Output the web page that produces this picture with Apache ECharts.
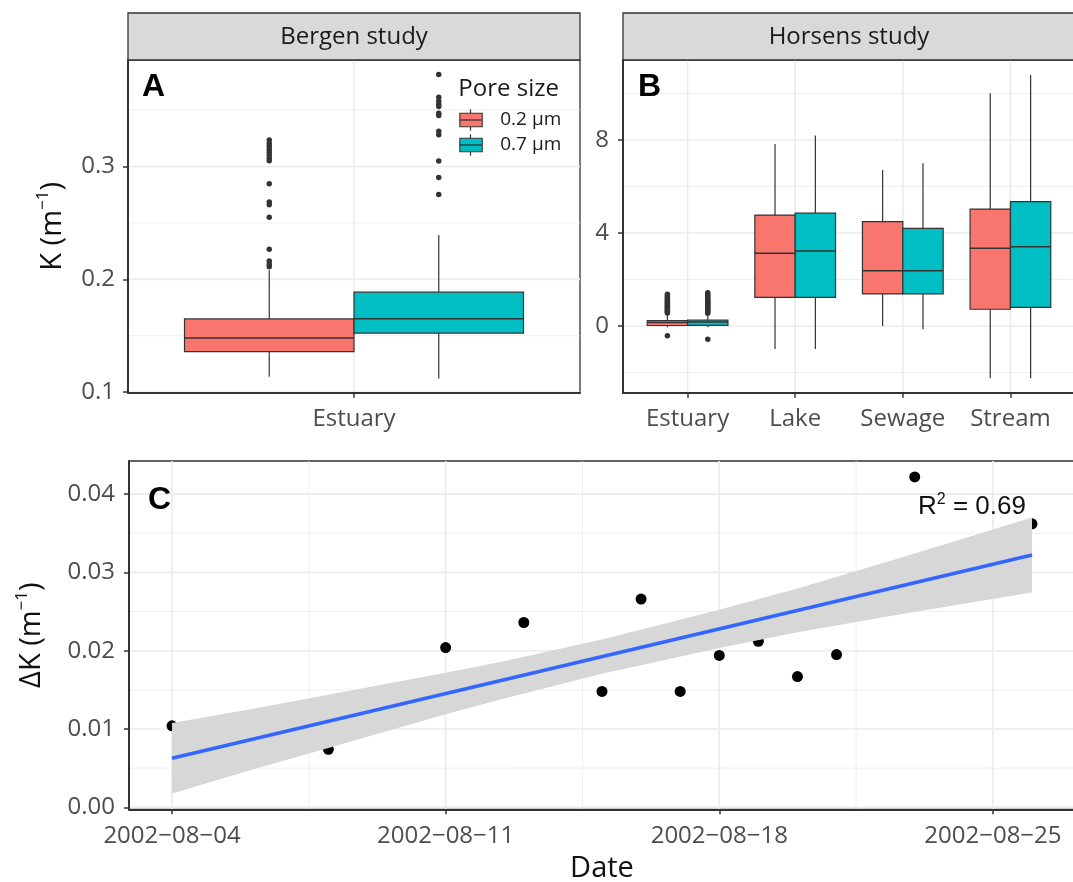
<!DOCTYPE html>
<html><head><meta charset="utf-8">
<script src="https://cdn.jsdelivr.net/npm/echarts@6/dist/echarts.min.js"></script>
<style>html,body{margin:0;padding:0;background:#fff}#chart{width:1073px;height:882px}</style>
</head><body><div id="chart"></div>
<script>
// ---------------- data ----------------
const poreSizes = ['0.2 µm', '0.7 µm'];

// Panel A – Bergen study: [lower whisker, Q1, median, Q3, upper whisker]
const bergenCategories = ['Estuary'];
const bergenStats02 = [[0.1137, 0.136, 0.148, 0.165, 0.208]];
const bergenStats07 = [[0.1122, 0.1524, 0.1652, 0.1887, 0.2393]];
const bergenOutliers02 = [[0.3235, 0.3205, 0.3178, 0.3152, 0.3127, 0.3101, 0.3073, 0.3052, 0.2848, 0.2685, 0.2662, 0.2551, 0.2268, 0.2163, 0.2134, 0.2112]];
const bergenOutliers07 = [[0.3815, 0.3613, 0.3578, 0.3552, 0.3533, 0.3473, 0.3452, 0.3312, 0.3281, 0.3050, 0.2902, 0.2753]];

// Panel B – Horsens study
const horsensCategories = ['Estuary', 'Lake', 'Sewage', 'Stream'];
const horsensStats02 = [
  [-0.05, 0.02, 0.15, 0.23, 0.50],
  [-0.99, 1.23, 3.13, 4.77, 7.83],
  [0.00, 1.38, 2.37, 4.49, 6.71],
  [-2.25, 0.72, 3.34, 5.03, 10.01]
];
const horsensStats07 = [
  [-0.05, 0.03, 0.17, 0.25, 0.52],
  [-0.99, 1.23, 3.23, 4.85, 8.19],
  [-0.14, 1.38, 2.37, 4.20, 7.00],
  [-2.25, 0.80, 3.41, 5.35, 10.80]
];
const horsensOutliers02 = [
  [0.56, 0.61, 0.66, 0.69, 0.74, 0.79, 0.83, 0.88, 0.94, 0.99, 1.04, 1.11, 1.16, 1.23, 1.29, 1.36, -0.42],
  [], [], []
];
const horsensOutliers07 = [
  [0.55, 0.62, 0.67, 0.71, 0.76, 0.82, 0.87, 0.93, 0.97, 1.02, 1.08, 1.14, 1.21, 1.28, 1.35, 1.43, -0.57],
  [], [], []
];

// Panel C – ΔK over time
const dkDates = ['2002-08-04', '2002-08-08', '2002-08-11', '2002-08-13', '2002-08-15', '2002-08-16', '2002-08-17',
  '2002-08-18', '2002-08-19', '2002-08-20', '2002-08-21', '2002-08-23', '2002-08-26'];
const dkValues = [0.0104, 0.0074, 0.0204, 0.0236, 0.0148, 0.0266, 0.0148, 0.0194, 0.0212, 0.0167, 0.0195, 0.0422, 0.0362];
const fitDates = ['2002-08-04', '2002-08-26'];
const fitValues = [0.00626, 0.03222];
const bandDaysFromStart = [0, 2, 4, 7, 8.4, 11, 14, 16, 18.6, 22];
const bandLower = [0.00176, 0.00472, 0.00758, 0.01187, 0.01377, 0.01704, 0.02033, 0.02234, 0.02461, 0.02742];
const bandUpper = [0.01076, 0.01252, 0.01438, 0.01717, 0.01857, 0.02144, 0.02523, 0.02794, 0.03181, 0.03702];
const rSquaredText = '0.69';

// tick / gridline values
const aYTicks = [0.1, 0.2, 0.3];
const aYMinor = [0.15, 0.25, 0.35];
const bYTicks = [0, 4, 8];
const bYMinor = [-2, 2, 6, 10];
const cYTicks = [0, 0.01, 0.02, 0.03, 0.04];
const cYMinor = [0.005, 0.015, 0.025, 0.035];
const cXTickDates = ['2002-08-04', '2002-08-11', '2002-08-18', '2002-08-25'];
const cXMinorDays = [3.5, 10.5, 17.5];

// ---------------- helpers ----------------
const DAY = 86400000;
const baseTime = Date.parse(dkDates[0]);
const dayOf = d => (Date.parse(d) - baseTime) / DAY;
const fmtDate = v => {
  const d = new Date(baseTime + Math.round(v) * DAY);
  const p = n => String(n).padStart(2, '0');
  return d.getUTCFullYear() + '\u2212' + p(d.getUTCMonth() + 1) + '\u2212' + p(d.getUTCDate());
};

const RED = '#F8766D', TEAL = '#00BFC4', DARK = '#333333';
const FONT = 'Open Sans';
const TICK_COLOR = '#4d4d4d';

function gridLineSeries(gridIdx, values, horizontal, width, anchor) {
  return {
    type: 'custom', xAxisIndex: gridIdx, yAxisIndex: gridIdx, z: 0, silent: true,
    data: values.map(v => horizontal ? [anchor, v] : [v, anchor]),
    renderItem: (params, api) => {
      const cs = params.coordSys;
      const pt = api.coord([api.value(0), api.value(1)]);
      const shape = horizontal
        ? { x1: cs.x, y1: pt[1], x2: cs.x + cs.width, y2: pt[1] }
        : { x1: pt[0], y1: cs.y, x2: pt[0], y2: cs.y + cs.height };
      return { type: 'line', shape, style: { stroke: '#ebebeb', lineWidth: width }, silent: true };
    }
  };
}

function boxSeries(name, gridIdx, stats, color, offset, halfW) {
  return {
    type: 'custom', name, xAxisIndex: gridIdx, yAxisIndex: gridIdx, z: 2,
    itemStyle: { color: color, borderColor: DARK },
    data: stats.map((s, i) => [i + 1].concat(s)),
    encode: { x: 0, y: [1, 2, 3, 4, 5] },
    renderItem: (params, api) => {
      const x = api.value(0) + offset;
      const lo = api.coord([x, api.value(1)]);
      const q1 = api.coord([x, api.value(2)]);
      const med = api.coord([x, api.value(3)]);
      const q3 = api.coord([x, api.value(4)]);
      const hi = api.coord([x, api.value(5)]);
      const left = api.coord([x - halfW, api.value(4)])[0];
      const right = api.coord([x + halfW, api.value(4)])[0];
      return {
        type: 'group', children: [
          { type: 'line', shape: { x1: hi[0], y1: hi[1], x2: q3[0], y2: q3[1] }, style: { stroke: DARK, lineWidth: 1.2 } },
          { type: 'line', shape: { x1: q1[0], y1: q1[1], x2: lo[0], y2: lo[1] }, style: { stroke: DARK, lineWidth: 1.2 } },
          { type: 'rect', shape: { x: left, y: q3[1], width: right - left, height: q1[1] - q3[1] },
            style: { fill: color, stroke: DARK, lineWidth: 1.2 } },
          { type: 'line', shape: { x1: left, y1: med[1], x2: right, y2: med[1] }, style: { stroke: DARK, lineWidth: 1.5 } }
        ]
      };
    }
  };
}

function outlierSeries(gridIdx, outliers, offset) {
  const data = [];
  outliers.forEach((vals, i) => vals.forEach(v => data.push([i + 1 + offset, v])));
  return {
    type: 'scatter', xAxisIndex: gridIdx, yAxisIndex: gridIdx, z: 3, silent: true,
    symbolSize: 5.5, itemStyle: { color: DARK, opacity: 1 }, data
  };
}

const tickLabel = extra => Object.assign({ color: TICK_COLOR, fontSize: 24, fontFamily: FONT }, extra);
const axisLineStyle = { show: true, onZero: false, lineStyle: { color: DARK, width: 2 } };
const axisTickStyle = vals => ({ show: true, length: 5, lineStyle: { color: DARK, width: 1.5 }, customValues: vals });
const nameRich = size => ({
  a: { fontSize: size, fontFamily: FONT, color: '#111', lineHeight: size + 6 },
  s: { fontSize: Math.round(size * 0.6), fontFamily: FONT, color: '#111', lineHeight: Math.round(size * 0.6), verticalAlign: 'top' }
});

const aHalf = 0.225, bHalf = 0.1875;
const gridBase = { show: true, borderColor: DARK, borderWidth: 1.3, backgroundColor: '#fff', containLabel: false, outerBoundsMode: 'none' };

const option = {
  animation: false,
  backgroundColor: '#ffffff',
  grid: [
    Object.assign({ left: 128, top: 60, width: 452, height: 332.7 }, gridBase),
    Object.assign({ left: 623, top: 60, width: 452, height: 332.7 }, gridBase),
    Object.assign({ left: 129, top: 461, width: 946, height: 348.3 }, gridBase)
  ],
  xAxis: [
    { gridIndex: 0, type: 'value', min: 0.4, max: 1.6, axisLine: axisLineStyle, axisTick: axisTickStyle([1]),
      axisLabel: tickLabel({ customValues: [1], formatter: v => bergenCategories[Math.round(v) - 1], margin: 14 }),
      splitLine: { show: false } },
    { gridIndex: 1, type: 'value', min: 0.4, max: 4.6, axisLine: axisLineStyle, axisTick: axisTickStyle([1, 2, 3, 4]),
      axisLabel: tickLabel({ customValues: [1, 2, 3, 4], formatter: v => horsensCategories[Math.round(v) - 1], margin: 14 }),
      splitLine: { show: false } },
    { gridIndex: 2, type: 'value', min: -1.1, max: 23.1, axisLine: axisLineStyle, axisTick: axisTickStyle(cXTickDates.map(dayOf)),
      axisLabel: tickLabel({ customValues: cXTickDates.map(dayOf), formatter: fmtDate, margin: 15 }),
      splitLine: { show: false },
      name: 'Date', nameLocation: 'middle', nameGap: 45,
      nameTextStyle: { fontSize: 29, fontFamily: FONT, color: '#111' } }
  ],
  yAxis: [
    { gridIndex: 0, type: 'value', min: 0.0996, max: 0.3944, axisLine: axisLineStyle, axisTick: axisTickStyle(aYTicks),
      axisLabel: tickLabel({ customValues: aYTicks, formatter: v => v.toFixed(1), margin: 13 }),
      splitLine: { show: false },
      name: '{a|K (m}{s|\u22121}{a|)}', nameLocation: 'middle', nameGap: 58, nameTextStyle: { rich: nameRich(29) } },
    { gridIndex: 1, type: 'value', min: -2.87, max: 11.44, axisLine: axisLineStyle, axisTick: axisTickStyle(bYTicks),
      axisLabel: tickLabel({ customValues: bYTicks, formatter: v => String(Math.round(v)), margin: 14 }),
      splitLine: { show: false } },
    { gridIndex: 2, type: 'value', min: -0.00026, max: 0.04423, axisLine: axisLineStyle, axisTick: axisTickStyle(cYTicks),
      axisLabel: tickLabel({ customValues: cYTicks, formatter: v => v.toFixed(2), margin: 14 }),
      splitLine: { show: false },
      name: '{a|\u0394K (m}{s|\u22121}{a|)}', nameLocation: 'middle', nameGap: 80, nameTextStyle: { rich: nameRich(29) } }
  ],
  legend: {
    data: poreSizes, orient: 'vertical', left: 459.3, top: 110.5, padding: 0,
    itemWidth: 22.4, itemHeight: 13.4, itemGap: 6, icon: 'rect', selectedMode: false,
    itemStyle: { borderColor: DARK, borderWidth: 1.1 },
    textStyle: { fontFamily: FONT, fontSize: 19, color: '#1a1a1a', lineHeight: 19, padding: [0, 0, 0, 13] }
  },
  graphic: [
    { type: 'rect', shape: { x: 128, y: 13, width: 452, height: 47 }, style: { fill: '#d9d9d9', stroke: DARK, lineWidth: 1.3 }, z: 10 },
    { type: 'text', x: 354, y: 37, style: { text: 'Bergen study', align: 'center', verticalAlign: 'middle', font: '24px "Open Sans"', fill: '#1a1a1a' }, z: 11 },
    { type: 'rect', shape: { x: 623, y: 13, width: 452, height: 47 }, style: { fill: '#d9d9d9', stroke: DARK, lineWidth: 1.3 }, z: 10 },
    { type: 'text', x: 849, y: 37, style: { text: 'Horsens study', align: 'center', verticalAlign: 'middle', font: '24px "Open Sans"', fill: '#1a1a1a' }, z: 11 },
    { type: 'text', x: 142, y: 87, style: { text: 'A', align: 'left', verticalAlign: 'middle', font: 'bold 32px "Liberation Sans"', fill: '#000' }, z: 11 },
    { type: 'text', x: 638, y: 87, style: { text: 'B', align: 'left', verticalAlign: 'middle', font: 'bold 32px "Liberation Sans"', fill: '#000' }, z: 11 },
    { type: 'text', x: 148, y: 500, style: { text: 'C', align: 'left', verticalAlign: 'middle', font: 'bold 32px "Liberation Sans"', fill: '#000' }, z: 11 },
    { type: 'text', x: 458.3, y: 89, style: { text: 'Pore size', align: 'left', verticalAlign: 'middle', font: '24px "Open Sans"', fill: '#1a1a1a' }, z: 11 },
    // boxplot-style legend keys (median + whiskers over legend icons)
    { type: 'line', shape: { x1: 459.3, y1: 120, x2: 481.7, y2: 120 }, style: { stroke: DARK, lineWidth: 1.3 }, z: 100 },
    { type: 'line', shape: { x1: 470.5, y1: 109.3, x2: 470.5, y2: 113.3 }, style: { stroke: DARK, lineWidth: 1.2 }, z: 100 },
    { type: 'line', shape: { x1: 470.5, y1: 126.7, x2: 470.5, y2: 130.7 }, style: { stroke: DARK, lineWidth: 1.2 }, z: 100 },
    { type: 'line', shape: { x1: 459.3, y1: 145, x2: 481.7, y2: 145 }, style: { stroke: DARK, lineWidth: 1.3 }, z: 100 },
    { type: 'line', shape: { x1: 470.5, y1: 134.3, x2: 470.5, y2: 138.3 }, style: { stroke: DARK, lineWidth: 1.2 }, z: 100 },
    { type: 'line', shape: { x1: 470.5, y1: 151.7, x2: 470.5, y2: 155.7 }, style: { stroke: DARK, lineWidth: 1.2 }, z: 100 },
    { type: 'text', x: 972, y: 507, z: 11,
      style: { text: '{r|R}{s|2}{r| = ' + rSquaredText + '}', align: 'center', verticalAlign: 'middle',
        rich: { r: { fontSize: 26, fontFamily: 'Liberation Sans', fill: '#111', lineHeight: 30 },
                s: { fontSize: 16, fontFamily: 'Liberation Sans', fill: '#111', lineHeight: 16, verticalAlign: 'top' } } } }
  ],
  series: [
    // gridlines
    gridLineSeries(0, aYTicks, true, 1.6, 0.4),
    gridLineSeries(0, aYMinor, true, 0.8, 0.4),
    gridLineSeries(0, [1], false, 1.6, 0.2),
    gridLineSeries(1, bYTicks, true, 1.6, 0.4),
    gridLineSeries(1, bYMinor, true, 0.8, 0.4),
    gridLineSeries(1, [1, 2, 3, 4], false, 1.6, 0),
    gridLineSeries(2, cYTicks, true, 1.6, 0),
    gridLineSeries(2, cYMinor, true, 0.8, 0),
    gridLineSeries(2, cXTickDates.map(dayOf), false, 1.6, 0.01),
    gridLineSeries(2, cXMinorDays, false, 0.8, 0.01),
    // panel A
    boxSeries(poreSizes[0], 0, bergenStats02, RED, -aHalf, aHalf),
    boxSeries(poreSizes[1], 0, bergenStats07, TEAL, aHalf, aHalf),
    outlierSeries(0, bergenOutliers02, -aHalf),
    outlierSeries(0, bergenOutliers07, aHalf),
    // panel B
    boxSeries(poreSizes[0], 1, horsensStats02, RED, -bHalf, bHalf),
    boxSeries(poreSizes[1], 1, horsensStats07, TEAL, bHalf, bHalf),
    outlierSeries(1, horsensOutliers02, -bHalf),
    outlierSeries(1, horsensOutliers07, bHalf),
    // panel C
    { type: 'scatter', xAxisIndex: 2, yAxisIndex: 2, z: 2, silent: true, symbolSize: 11,
      itemStyle: { color: '#000', opacity: 1 }, data: dkDates.map((d, i) => [dayOf(d), dkValues[i]]) },
    { type: 'custom', xAxisIndex: 2, yAxisIndex: 2, z: 3, silent: true,
      data: [[bandDaysFromStart[0], bandLower[0]]],
      renderItem: (params, api) => {
        const pts = [];
        bandDaysFromStart.forEach((d, i) => pts.push(api.coord([d, bandUpper[i]])));
        for (let i = bandDaysFromStart.length - 1; i >= 0; i--) pts.push(api.coord([bandDaysFromStart[i], bandLower[i]]));
        return { type: 'polygon', shape: { points: pts }, style: { fill: '#d7d7d7' } };
      } },
    { type: 'line', xAxisIndex: 2, yAxisIndex: 2, z: 4, silent: true, symbol: 'none',
      lineStyle: { color: '#3366FF', width: 3.5 },
      data: fitDates.map((d, i) => [dayOf(d), fitValues[i]]) }
  ]
};

const chart = echarts.init(document.getElementById('chart'), null, { renderer: 'canvas' });
chart.setOption(option);
</script>
</body></html>
